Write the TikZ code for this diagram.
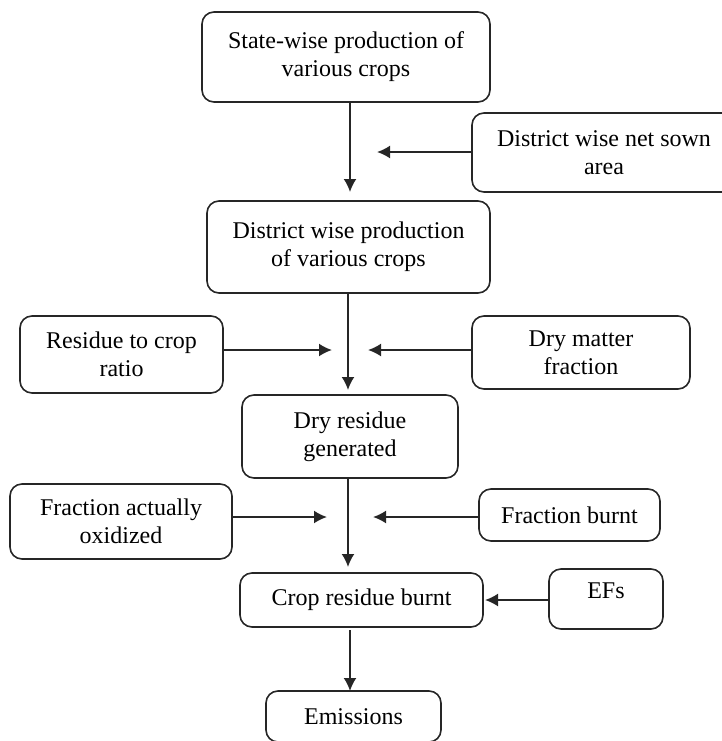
\documentclass[tikz,border=0pt]{standalone}
\usepackage{fontspec}
\setmainfont{Liberation Serif}
\usepackage{tkz-graph}
\usetikzlibrary{arrows.meta}
\colorlet{myline}{black!85}

\begin{document}
\begin{tikzpicture}[x=0.5pt,y=-0.5pt]
\useasboundingbox (0,0) rectangle (722,741);
\GraphInit[vstyle=Normal]
\tikzset{VertexStyle/.style ={shape=rectangle,draw=myline,line width=0.8pt,rounded corners=6pt,align=center,inner sep=0pt,font=\fontsize{12}{14}\selectfont}}
\tikzset{EdgeStyle/.style ={draw=myline,line width=0.95pt,-{Latex[length=6.5pt,width=6.5pt]}}}
\Vertex[x=346,y=57,L={State-wise production of\\various crops},style={minimum width=144pt,minimum height=45pt}]{top}
\Vertex[x=604,y=152.5,L={District wise net sown\\area},style={minimum width=132pt,minimum height=39.5pt}]{sown}
\Vertex[x=348.5,y=247,L={District wise production\\of various crops},style={minimum width=141.5pt,minimum height=46pt}]{dist}
\Vertex[x=121.5,y=354.5,L={Residue to crop\\ratio},style={minimum width=101.5pt,minimum height=38.5pt}]{ratio}
\Vertex[x=581,y=352.5,L={Dry matter\\fraction},style={minimum width=109pt,minimum height=36.5pt}]{drym}
\Vertex[x=350,y=436.5,L={Dry residue\\generated},style={minimum width=108pt,minimum height=41.5pt}]{resid}
\Vertex[x=121,y=521.5,L={Fraction actually\\oxidized},style={minimum width=111pt,minimum height=37.5pt}]{oxid}
\Vertex[x=569.5,y=515,L={Fraction burnt},style={minimum width=90.5pt,minimum height=26pt}]{frac}
\Vertex[x=361.5,y=600,L={Crop residue burnt},style={minimum width=121.5pt,minimum height=27pt}]{crop}
\Vertex[x=606,y=599,L={EFs},style={minimum width=57pt,minimum height=30pt,text height=9pt,text depth=10pt}]{efs}
\Vertex[x=353.5,y=716.5,L={Emissions},style={minimum width=87.5pt,minimum height=25.5pt}]{emis}
% points where the inputs meet the main flow
\coordinate (j1) at (350,152);
\coordinate (j2) at (348,350);
\coordinate (j3) at (348,517);
\coordinate (j4) at (350,660);
\draw[EdgeStyle,shorten >=4.5pt] (top.south -| j1) -- (dist.north -| j1);
\draw[EdgeStyle,shorten >=13.5pt] (sown.west |- j1) -- (j1);
\draw[EdgeStyle,shorten >=2.5pt] (dist.south -| j2) -- (resid.north -| j2);
\draw[EdgeStyle,shorten >=8pt] (ratio.east |- j2) -- (j2);
\draw[EdgeStyle,shorten >=10pt] (drym.west |- j2) -- (j2);
\draw[EdgeStyle,shorten >=3pt] (resid.south -| j3) -- (crop.north -| j3);
\draw[EdgeStyle,shorten >=10.5pt] (oxid.east |- j3) -- (j3);
\draw[EdgeStyle,shorten >=12.5pt] (frac.west |- j3) -- (j3);
\draw[EdgeStyle,shorten >=1pt] (efs.west |- crop) -- (crop.east);
\draw[EdgeStyle,shorten <=1.5pt] (crop.south -| j4) -- (emis.north -| j4);
\end{tikzpicture}
\end{document}
